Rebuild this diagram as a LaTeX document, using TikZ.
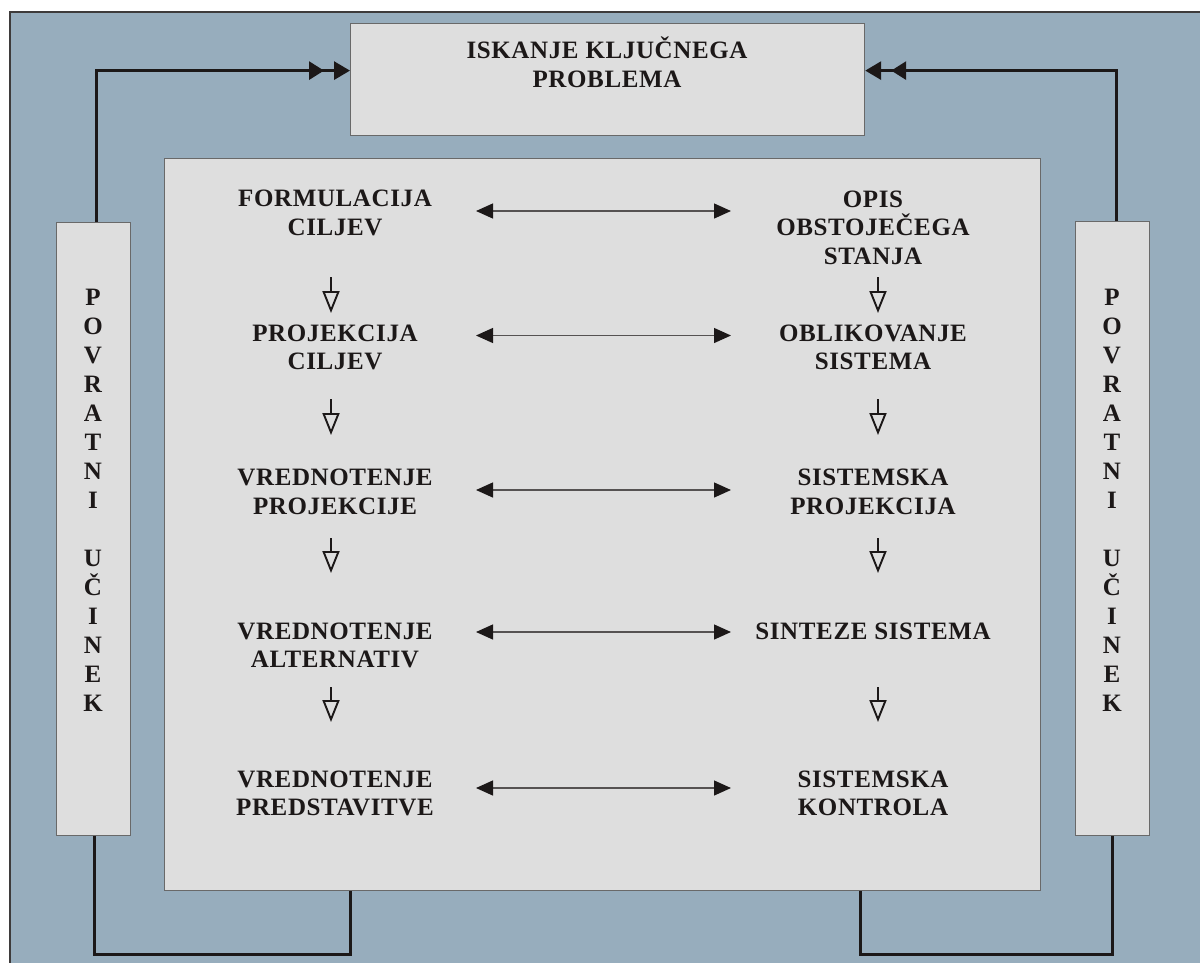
\documentclass[tikz,border=0pt]{standalone}
\usepackage{fontspec}
\newfontfamily\labfont{Liberation Serif}[LetterSpace=2.5]
\usetikzlibrary{arrows.meta}
\definecolor{bgblue}{RGB}{151,173,189}
\definecolor{boxgray}{RGB}{222,222,222}
\definecolor{edgegray}{RGB}{105,105,105}
\definecolor{ink}{RGB}{28,24,24}
\begin{document}
\begin{tikzpicture}[x=1pt,y=-1pt,
  box/.style={fill=boxgray, draw=edgegray, line width=1.2pt, inner sep=0pt, anchor=north west},
  lbl/.style={font=\labfont\bfseries\fontsize{25}{28.5}\selectfont, align=center, inner sep=0pt, text=ink},
  side/.style={font=\labfont\bfseries\fontsize{25}{29}\selectfont, align=center, inner sep=0pt, text=ink},
  fb/.style={line width=3pt, draw=ink},
  dbltip/.style={-{Triangle[length=15pt,width=18pt,sep=10pt]Triangle[length=16pt,width=18pt]}},
  biarrow/.style={{Triangle[length=17pt,width=15pt,color=ink,fill=ink]}-{Triangle[length=17pt,width=15pt,color=ink,fill=ink]}, line width=1.3pt, draw=ink!75},
  downarrow/.style={-{Triangle[open,length=22pt,width=17pt]}, line width=1.9pt, draw=ink}
]
\useasboundingbox (0,0) rectangle (1200,962);
\fill[white] (0,0) rectangle (1200,962);
\draw[fill=bgblue, draw=ink!85, line width=2pt] (10,12) rectangle (1205,968);

% boxes
\node[box, minimum width=514pt, minimum height=112pt] (top) at (350,23) {};
\node[box, minimum width=876pt, minimum height=732pt] (inner) at (164,158) {};
\node[box, minimum width=74pt, minimum height=613pt] (lbox) at (56,222) {};
\node[box, minimum width=74pt, minimum height=614pt] (rbox) at (1075,221) {};

% feedback connectors
\draw[fb, dbltip] ([xshift=3pt]lbox.north) |- ([yshift=9pt]top.west);
\draw[fb, dbltip] ([xshift=4pt]rbox.north) |- ([yshift=9pt]top.east);
\draw[fb] ([xshift=1pt]lbox.south) -- ++(0,118) -| ([xshift=186pt]inner.south west);
\draw[fb] (rbox.south) -- ++(0,118) -| ([xshift=-181pt]inner.south east);

% texts
\node[lbl] (t) at (607,62.5) {ISKANJE KLJUČNEGA\\PROBLEMA};
\node[lbl] (a1) at (335,213) {FORMULACIJA\\CILJEV};
\node[lbl] (a2) at (335,347.5) {PROJEKCIJA\\CILJEV};
\node[lbl] (a3) at (335,492) {VREDNOTENJE\\PROJEKCIJE};
\node[lbl] (a4) at (335,645.5) {VREDNOTENJE\\ALTERNATIV};
\node[lbl] (a5) at (335,793.5) {VREDNOTENJE\\PREDSTAVITVE};
\node[lbl] (b1) at (873,227.5) {OPIS\\OBSTOJEČEGA\\STANJA};
\node[lbl] (b2) at (873,347.5) {OBLIKOVANJE\\SISTEMA};
\node[lbl] (b3) at (873,492) {SISTEMSKA\\PROJEKCIJA};
\node[lbl] (b4) at (873,631) {SINTEZE SISTEMA};
\node[lbl] (b5) at (873,793.5) {SISTEMSKA\\KONTROLA};
\node[side] (ls) at (93,500) {P\\O\\V\\R\\A\\T\\N\\I\\[29pt]U\\Č\\I\\N\\E\\K};
\node[side] (rs) at (1112,500) {P\\O\\V\\R\\A\\T\\N\\I\\[29pt]U\\Č\\I\\N\\E\\K};

% horizontal two-way arrows
\foreach \i/\y in {1/211,2/335.5,3/490,4/632,5/788}{
  \coordinate (h\i l) at (476,\y);
  \coordinate (h\i r) at (731,\y);
  \draw[biarrow] (h\i l) -- (h\i r);
}
% downward arrows
\foreach \i/\ys/\ye in {1/277/313,2/399/435,3/538/573,4/687/722}{
  \coordinate (dl\i s) at (331,\ys);
  \coordinate (dl\i e) at (331,\ye);
  \coordinate (dr\i s) at (878,\ys);
  \coordinate (dr\i e) at (878,\ye);
  \draw[downarrow] (dl\i s) -- (dl\i e);
  \draw[downarrow] (dr\i s) -- (dr\i e);
}
\end{tikzpicture}
\end{document}
